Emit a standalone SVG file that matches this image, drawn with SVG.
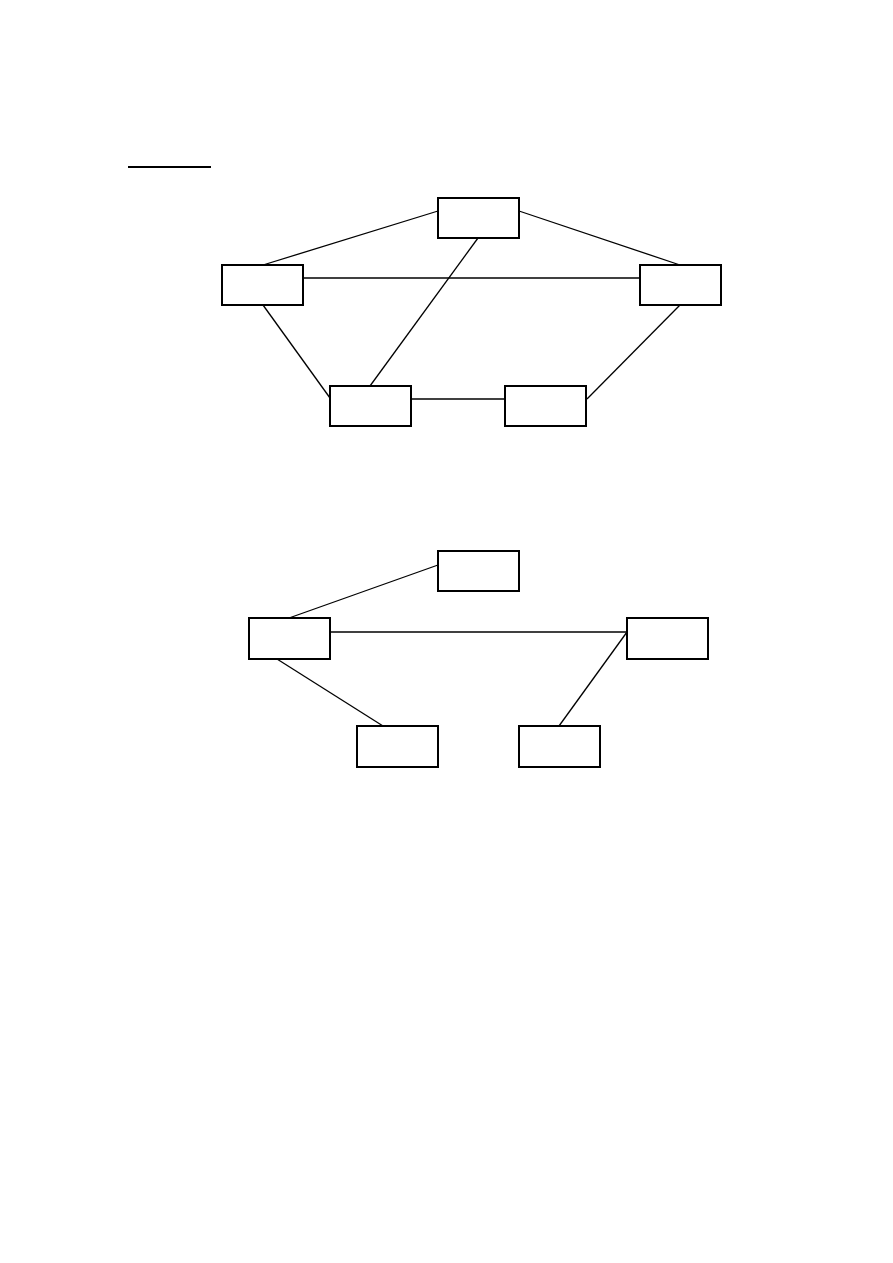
<svg xmlns="http://www.w3.org/2000/svg" width="893" height="1263" viewBox="0 0 893 1263">
<style>
.box{fill:#fff;stroke:#000;stroke-width:2}
.ln{stroke:#000;stroke-width:1.3;fill:none}
</style>
<rect width="893" height="1263" fill="#fff"/>
<line x1="128" y1="167" x2="211" y2="167" stroke="#000" stroke-width="2"/>
<g id="connectors">
<line class="ln" x1="438" y1="211" x2="263" y2="265"/>
<line class="ln" x1="519" y1="211" x2="680" y2="265"/>
<line class="ln" x1="303" y1="278" x2="640" y2="278"/>
<line class="ln" x1="478" y1="238" x2="370" y2="386"/>
<line class="ln" x1="263" y1="305" x2="330" y2="398"/>
<line class="ln" x1="411" y1="399" x2="505" y2="399"/>
<line class="ln" x1="680" y1="305" x2="587" y2="399"/>
<line class="ln" x1="438" y1="565" x2="289" y2="618"/>
<line class="ln" x1="330" y1="632" x2="627" y2="632"/>
<line class="ln" x1="277" y1="659" x2="383" y2="726"/>
<line class="ln" x1="627" y1="632" x2="559" y2="726"/>
</g>
<g id="n1"><rect class="box" x="438" y="198" width="81" height="40"/></g>
<g id="n2"><rect class="box" x="222" y="265" width="81" height="40"/></g>
<g id="n3"><rect class="box" x="640" y="265" width="81" height="40"/></g>
<g id="n4"><rect class="box" x="330" y="386" width="81" height="40"/></g>
<g id="n5"><rect class="box" x="505" y="386" width="81" height="40"/></g>
<g id="n6"><rect class="box" x="438" y="551" width="81" height="40"/></g>
<g id="n7"><rect class="box" x="249" y="618" width="81" height="41"/></g>
<g id="n8"><rect class="box" x="627" y="618" width="81" height="41"/></g>
<g id="n9"><rect class="box" x="357" y="726" width="81" height="41"/></g>
<g id="n10"><rect class="box" x="519" y="726" width="81" height="41"/></g>
</svg>
